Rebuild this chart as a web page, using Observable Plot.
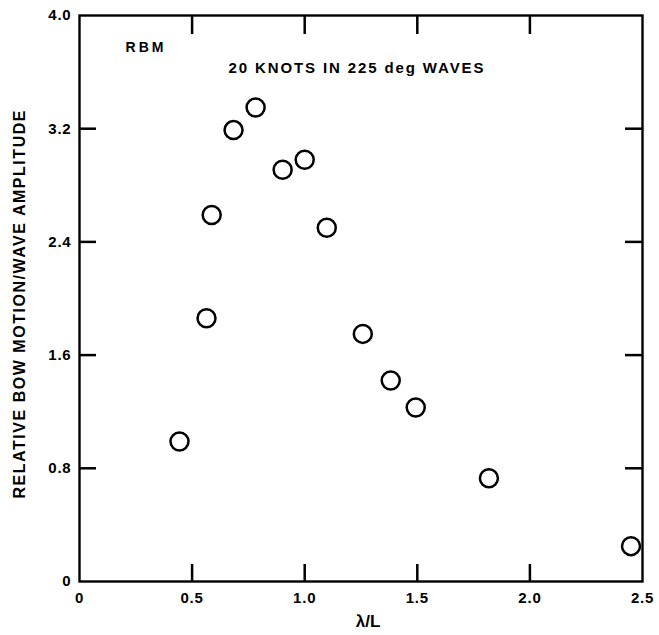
<!DOCTYPE html>
<html><head><meta charset="utf-8">
<script src="https://cdn.jsdelivr.net/npm/d3@7"></script>
<script src="https://cdn.jsdelivr.net/npm/@observablehq/plot@0.6"></script>
<style>
body{margin:0;background:#fff}
#chart svg{font-family:"Liberation Sans",Arial,sans-serif;font-weight:bold;background:#fff}
</style>
</head><body><div id="chart"></div>
<script>
const lambdaL   = [0.444, 0.564, 0.587, 0.684, 0.782, 0.902, 1.000, 1.098, 1.258, 1.382, 1.493, 1.818, 2.449];
const amplitude = [0.99, 1.86, 2.59, 3.19, 3.35, 2.91, 2.98, 2.50, 1.75, 1.42, 1.23, 0.73, 0.25];
const xTicks = [0, 0.5, 1.0, 1.5, 2.0, 2.5];
const xTickLabels = ["0", "0.5", "1.0", "1.5", "2.0", "2.5"];
const yTicks = [0, 0.8, 1.6, 2.4, 3.2, 4.0];
const yTickLabels = ["0", "0.8", "1.6", "2.4", "3.2", "4.0"];
const xInnerTicks = [0.5, 1.0, 1.5, 2.0];
const yInnerTicks = [0.8, 1.6, 2.4, 3.2];
const xLabel = "λ/L";
const yLabel = "RELATIVE BOW MOTION/WAVE AMPLITUDE";
const annotations = ["RBM", "20 KNOTS IN 225 deg WAVES"];

const data = lambdaL.map((x, i) => ({x, y: amplitude[i]}));
const blank = () => "";

const chart = Plot.plot({
  width: 659,
  height: 635,
  marginLeft: 79,
  marginRight: 17,
  marginTop: 15,
  marginBottom: 54,
  x: {domain: [0, 2.5]},
  y: {domain: [0, 4.0]},
  marks: [
    Plot.frame({stroke: "black", strokeWidth: 2.4}),
    // inward ticks on all four sides
    Plot.axisX(xInnerTicks, {anchor: "bottom", tickSize: -17, strokeWidth: 2.5, tickFormat: blank, label: null}),
    Plot.axisX(xInnerTicks, {anchor: "top", tickSize: -18, strokeWidth: 2.5, tickFormat: blank, label: null}),
    Plot.axisY(yInnerTicks, {anchor: "left", tickSize: -17, strokeWidth: 2.5, tickFormat: blank, label: null}),
    Plot.axisY(yInnerTicks, {anchor: "right", tickSize: -18, strokeWidth: 2.5, tickFormat: blank, label: null}),
    // tick labels
    Plot.axisX(xTicks, {anchor: "bottom", tickSize: 0, tickPadding: 11, fontSize: 15, fontWeight: "bold", fill: "black",
      tickFormat: d => xTickLabels[xTicks.indexOf(d)], label: null}),
    Plot.axisY(yTicks, {anchor: "left", tickSize: 0, tickPadding: 8, fontSize: 15, fontWeight: "bold", fill: "black",
      tickFormat: d => yTickLabels[yTicks.indexOf(d)], label: null}),
    // axis titles
    Plot.text([xLabel], {frameAnchor: "bottom", dx: 7, dy: 40, fontSize: 17, fontWeight: "bold", fill: "black",
      text: d => d, lineAnchor: "middle"}),
    Plot.text([yLabel], {frameAnchor: "left", dx: -60, dy: 6, rotate: -90, fontSize: 16, fontWeight: "bold", fill: "black",
      text: d => d, textAnchor: "middle", lineAnchor: "middle"}),
    // annotations
    Plot.text([annotations[0]], {frameAnchor: "top-left", dx: 46, dy: 27, textAnchor: "start", lineAnchor: "top",
      fontSize: 14, fontWeight: "bold", fill: "black", text: d => d}),
    Plot.text([annotations[1]], {frameAnchor: "top-left", dx: 149, dy: 47, textAnchor: "start", lineAnchor: "top",
      fontSize: 15, fontWeight: "bold", fill: "black", text: d => d}),
    // data
    Plot.dot(data, {x: "x", y: "y", r: 9, stroke: "black", strokeWidth: 2.5, fill: "white"})
  ]
});
document.getElementById("chart").appendChild(chart);

// stretch letter spacing of the wide, spaced-out lettering in the original
const spread = {[yLabel]: 388, [annotations[1]]: 255, [annotations[0]]: 38};
d3.select(chart).selectAll("text").each(function() {
  const t = this.textContent;
  if (spread[t]) {
    this.setAttribute("textLength", spread[t]);
    this.setAttribute("lengthAdjust", "spacing");
  }
});
d3.select(chart).selectAll('g[aria-label$="tick label"] text').attr("letter-spacing", "0.8px");
</script>
</body></html>
